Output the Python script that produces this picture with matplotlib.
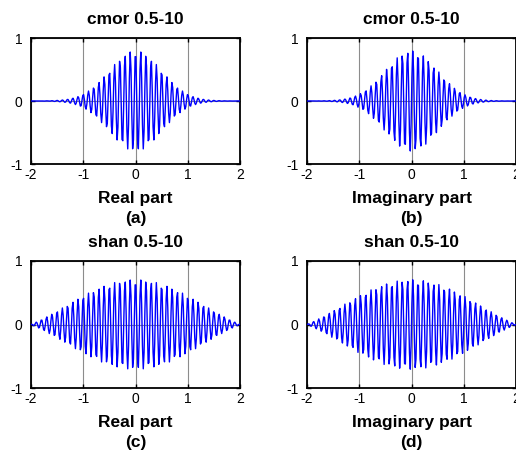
#!/usr/bin/env python
# -*- coding: utf-8 -*-

import matplotlib
matplotlib.use("Agg")
import matplotlib.pyplot as plt
import numpy as np

plt.rcParams["font.family"] = ["Liberation Sans", "DejaVu Sans"]

# wavelet families and their (bandwidth, centre frequency) read from the titles
families = ["cmor", "cmor", "shan", "shan"]
bandwidths = [0.5, 0.5, 0.5, 0.5]
centre_freqs = [10, 10, 10, 10]
parts = ["Real part", "Imaginary part", "Real part", "Imaginary part"]
letters = ["(a)", "(b)", "(c)", "(d)"]
x_ticks = [-2, -1, 0, 1, 2]
y_ticks = [-1, 0, 1]

# sampling grid of the wavelet support
x = np.linspace(-8, 8, 1024)


def wavelet(name: str, fb: float, fc: float) -> np.ndarray:
    """Complex wavelet sampled on x"""
    carrier = np.exp(2j * np.pi * fc * x)
    if name == "cmor":
        return (np.pi * fb) ** -0.5 * np.exp(-x ** 2 / fb) * carrier
    return np.sqrt(fb) * np.sinc(fb * x) * carrier


W, H = 516, 453
fig = plt.figure(figsize=(W / 100, H / 100), dpi=100)

# axes boxes in pixels: left, top, right, bottom
boxes = [(31, 38, 240, 164), (307, 38, 516, 164),
         (31, 261, 240, 388), (307, 261, 516, 388)]

for i, (l, t, r, b) in enumerate(boxes):
    ax = fig.add_axes([l / W, 1 - b / H, (r - l) / W, (b - t) / H])
    psi = wavelet(families[i], bandwidths[i], centre_freqs[i])
    y = psi.real if parts[i] == "Real part" else psi.imag
    ax.plot(x, y, color="#0000ff", lw=1.0, zorder=3)
    ax.set_xlim(-2, 2)
    ax.set_ylim(-1, 1)
    ax.set_xticks(x_ticks)
    ax.set_yticks(y_ticks)
    ax.set_xticklabels([str(v) for v in x_ticks])
    ax.set_yticklabels([str(v) for v in y_ticks])
    ax.tick_params(direction="in", length=3, width=1, labelsize=10,
                   top=True, right=True, colors="black")
    ax.tick_params(axis="x", pad=3)
    ax.tick_params(axis="y", pad=6)
    ax.grid(True, color="#8c8c8c", lw=0.8, zorder=1)
    for s in ax.spines.values():
        s.set_linewidth(1.3)
    cx = (l + r) / 2 / W
    fig.text(cx, 1 - (t - 18) / H, f"{families[i]} {bandwidths[i]}-{centre_freqs[i]}",
             fontsize=12.5, fontweight="bold", ha="center", va="center")
    fig.text(cx, 1 - (b + 34) / H, parts[i], fontsize=12.5,
             fontweight="bold", ha="center", va="center")
    fig.text(cx, 1 - (b + 54) / H, letters[i], fontsize=12.5,
             fontweight="bold", ha="center", va="center")

fig.savefig("out.png", dpi=100)
